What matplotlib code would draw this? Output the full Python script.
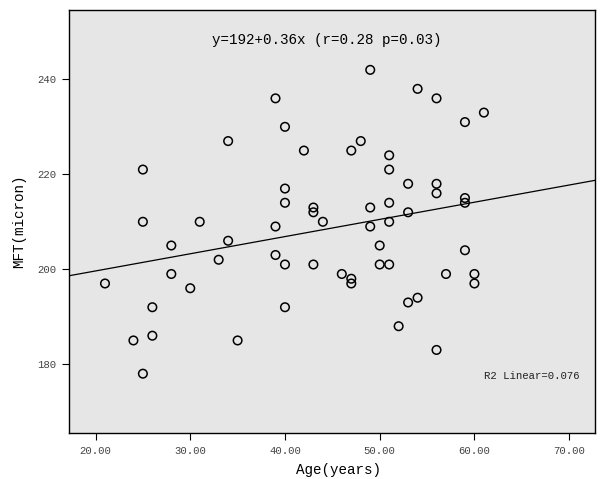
import numpy as np
import matplotlib
matplotlib.use("Agg")
import matplotlib.pyplot as plt

plt.rcParams['font.family'] = ['Liberation Mono', 'DejaVu Sans Mono']

# Age (years) and MFT (micron)
age = [21, 24, 25, 25, 25, 26, 26, 28, 28, 30, 31, 33, 34, 34, 35,
       39, 39, 39, 40, 40, 40, 40, 40, 42, 43, 43, 43, 44, 46, 47, 47, 47,
       48, 49, 49, 49, 50, 50, 51, 51, 51, 51, 51, 52, 53, 53, 53, 54, 54,
       56, 56, 56, 56, 57, 59, 59, 59, 59, 60, 60, 61]
mft = [197, 185, 221, 210, 178, 192, 186, 205, 199, 196, 210, 202, 227, 206, 185,
       236, 209, 203, 230, 217, 214, 201, 192, 225, 213, 212, 201, 210, 199, 225, 198, 197,
       227, 242, 213, 209, 205, 201, 224, 221, 214, 210, 201, 188, 218, 212, 193, 238, 194,
       236, 218, 216, 183, 199, 231, 215, 214, 204, 199, 197, 233]

# fit line as drawn in the reference
intercept, slope = 192.4, 0.362

x_ticks = [20, 30, 40, 50, 60, 70]
y_ticks = [180, 200, 220, 240]

fig = plt.figure(figsize=(6.0, 4.79), dpi=100)
ax = fig.add_axes([0.115, 0.096, 0.877, 0.883])
ax.set_facecolor('#e6e6e6')

ax.scatter(age, mft, s=38, facecolors='none', edgecolors='black', linewidths=1.1, zorder=3)

xlim = (17.2, 72.75)
xs = np.array(xlim)
ax.plot(xs, intercept + slope * xs, color='black', linewidth=0.9, zorder=2)

ax.set_xlim(*xlim)
ax.set_ylim(165.5, 254.6)
ax.set_xticks(x_ticks)
ax.set_xticklabels([f"{t:.2f}" for t in x_ticks])
ax.set_yticks(y_ticks)
ax.tick_params(axis='both', direction='out', length=5, width=0.8, pad=4,
               labelsize=7.7, labelcolor='#444444')
for side in ['left', 'bottom', 'top', 'right']:
    ax.spines[side].set_linewidth(1.0)

ax.set_xlabel("Age(years)", fontsize=10.3, labelpad=3)
ax.xaxis.set_label_coords(0.513, -0.072)
ax.set_ylabel("MFT(micron)", fontsize=10.3, labelpad=8)

ax.text(0.489, 0.929, "y=192+0.36x (r=0.28 p=0.03)", transform=ax.transAxes,
        ha='center', va='center', fontsize=10.3)
ax.text(0.97, 0.135, "R2 Linear=0.076", transform=ax.transAxes,
        ha='right', va='center', fontsize=7.7, color='#222222')

fig.savefig("out.png", dpi=100)
